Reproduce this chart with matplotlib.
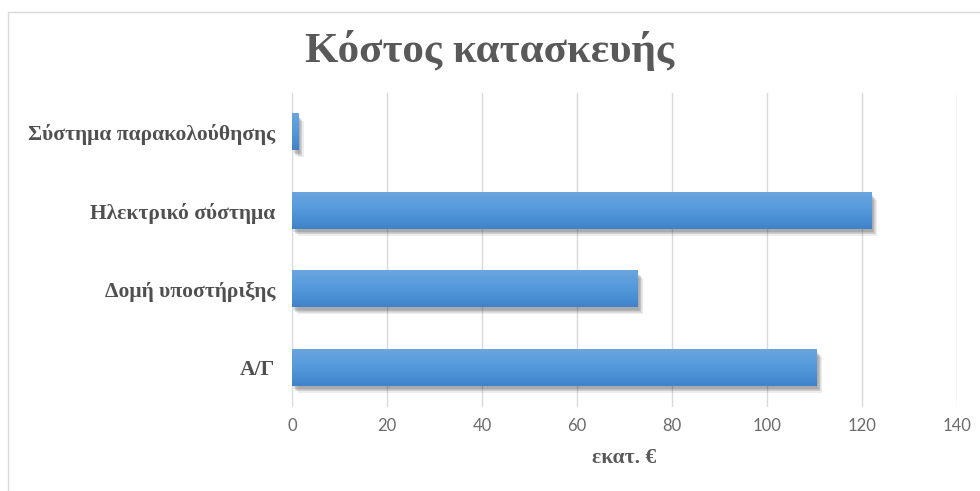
import numpy as np
import matplotlib
matplotlib.use("Agg")
import matplotlib.pyplot as plt
import matplotlib.patheffects as pe
from matplotlib.colors import LinearSegmentedColormap
from matplotlib.patches import Rectangle

# δεδομένα
categories = ['Α/Γ', 'Δομή υποστήριξης', 'Ηλεκτρικό σύστημα', 'Σύστημα παρακολούθησης']
values = [110.5, 72.8, 122.0, 1.3]
xticks = [0, 20, 40, 60, 80, 100, 120, 140]

serif = ['Liberation Serif', 'DejaVu Serif']
sans = ['Lato', 'Open Sans', 'DejaVu Sans']

fig = plt.figure(figsize=(9.8, 4.91), dpi=100)
ax = fig.add_axes([292 / 980, 1 - 407 / 491, (957 - 292) / 980, (407 - 93) / 491])

# πλαίσιο γραφήματος
fig.patches.append(Rectangle((8 / 980, -0.1), 1.2, 1.1 - 12 / 491, transform=fig.transFigure,
                             facecolor='none', edgecolor='#d9d9d9', lw=1))

# απαλή σκιά (πολλά στρώματα)
shadow = [pe.SimplePatchShadow(offset=(o, -o - 1), shadow_rgbFace='#404040', alpha=0.09)
          for o in (4, 3, 2.5, 2, 1.5, 1)]

y = np.arange(len(categories))
bars = ax.barh(y, values, height=0.46, color='#4a8fd6', zorder=3,
               path_effects=shadow + [pe.Normal()])

cmap = LinearSegmentedColormap.from_list('blu', ['#3f82c9', '#5499dc', '#6aa5de'])
grad = np.linspace(0, 1, 64).reshape(-1, 1)
for b in bars:
    x0, y0 = b.get_x(), b.get_y()
    ax.imshow(grad, extent=[x0, x0 + b.get_width(), y0, y0 + b.get_height()], origin='lower',
              aspect='auto', cmap=cmap, zorder=4, clip_path=b, clip_on=True)

ax.set_xlim(0, 140)
ax.set_ylim(-0.5, len(categories) - 0.5)
ax.set_xticks(xticks)
ax.set_yticks(y)
ax.set_yticklabels(categories, fontfamily=serif, fontweight='bold', fontsize=15.5, color='#505050')
ax.set_xticklabels([str(t) for t in xticks], fontfamily=sans, fontsize=12, color='#6b6b6b')
ax.tick_params(axis='both', length=0)
ax.tick_params(axis='x', pad=8)
ax.tick_params(axis='y', pad=12)
ax.grid(axis='x', color='#d9d9d9', lw=1, zorder=0)
ax.set_axisbelow(True)
for s in ax.spines.values():
    s.set_visible(False)

ax.set_xlabel('εκατ. €', fontfamily=serif, fontweight='bold', fontsize=15.5, color='#595959', labelpad=10)
fig.text(0.5, 1 - 50 / 491, 'Κόστος κατασκευής', ha='center', va='center',
         fontfamily=serif, fontweight='bold', fontsize=31, color='#595959')

fig.savefig('out.png', dpi=100)
